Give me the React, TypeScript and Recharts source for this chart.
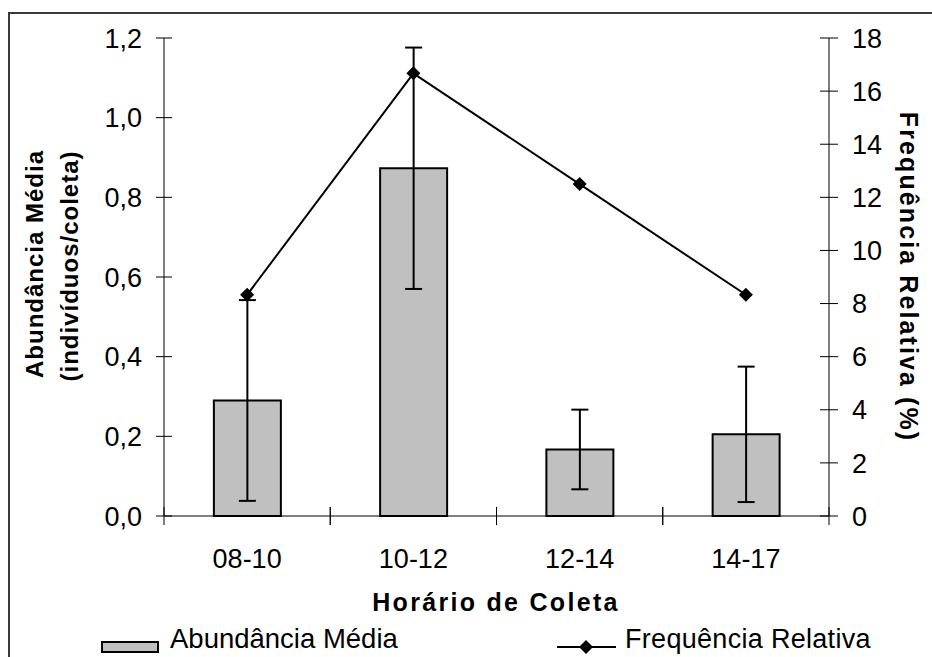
import { ComposedChart, Bar, Line, XAxis, YAxis, ErrorBar, Legend } from 'recharts';

const horarios = ['08-10', '10-12', '12-14', '14-17'];
const abundancia = [0.29, 0.873, 0.167, 0.205];
const erroPadrao = [0.252, 0.303, 0.1, 0.17];
const frequencia = [8.33, 16.67, 12.5, 8.33];
const ticksAbund = [0, 0.2, 0.4, 0.6, 0.8, 1.0, 1.2];
const ticksFreq = [0, 2, 4, 6, 8, 10, 12, 14, 16, 18];

const data = horarios.map((h, i) => ({
  horario: h,
  abund: abundancia[i],
  erro: erroPadrao[i],
  freq: frequencia[i],
}));

const W = 932;
const H = 657;
const PLOT_LEFT = 164;
const PLOT_RIGHT = 829;
const FONT = '"Liberation Sans", Arial, sans-serif';

const fmt = (v: number) => v.toFixed(1).replace('.', ',');

function LeftTick({ x, y, payload }: any) {
  return (
    <g>
      <line x1={x - 8} x2={x + 8} y1={y} y2={y} stroke="#000" />
      <text x={x - 22} y={y} dy="0.36em" textAnchor="end" fontSize={27}
        fill="#000" fontFamily={FONT}>{fmt(payload.value)}</text>
    </g>
  );
}

function RightTick({ x, y, payload }: any) {
  return (
    <g>
      <line x1={x - 9} x2={x + 9} y1={y} y2={y} stroke="#000" />
      <text x={x + 23} y={y} dy="0.36em" textAnchor="start" fontSize={27}
        fill="#000" fontFamily={FONT}>{payload.value}</text>
    </g>
  );
}

function BottomTick({ x, y, payload }: any) {
  const half = (PLOT_RIGHT - PLOT_LEFT) / horarios.length / 2;
  return (
    <g>
      <line x1={x - half} x2={x - half} y1={y - 9} y2={y + 9} stroke="#000" />
      <line x1={x + half} x2={x + half} y1={y - 9} y2={y + 9} stroke="#000" />
      <text x={x} y={y + 52} textAnchor="middle" fontSize={27}
        fill="#000" fontFamily={FONT}>{payload.value}</text>
    </g>
  );
}

function Diamond({ cx, cy }: any) {
  if (cx == null || cy == null) return null;
  const r = 7;
  return (
    <polygon points={`${cx},${cy - r} ${cx + r},${cy} ${cx},${cy + r} ${cx - r},${cy}`} fill="#000" />
  );
}

function LegendBox() {
  return (
    <svg width={W} height={29} style={{ display: 'block', overflow: 'visible' }}>
      <rect x={102} y={15} width={56} height={10} fill="#c0c0c0" stroke="#000" strokeWidth={2} />
      <text x={170} y={21} fontSize={27.5} fill="#000" fontFamily={FONT}>Abundância Média</text>
      <line x1={557} x2={616} y1={20} y2={20} stroke="#000" strokeWidth={2} />
      <Diamond cx={586} cy={20} />
      <text x={625} y={21} fontSize={27} letterSpacing={0.3} fill="#000" fontFamily={FONT}>Frequência Relativa</text>
    </svg>
  );
}

export default function App() {
  return (
    <div style={{ position: 'fixed', left: 0, top: 0, width: W, height: H, overflow: 'hidden', background: '#fff' }}>
      <div style={{ position: 'absolute', left: 8, top: 12, width: 960, height: 700, border: '2px solid #3a3a3a' }} />
      <div style={{ position: 'absolute', left: 0, top: 0 }}>
        <ComposedChart width={W} height={H} data={data} barCategoryGap="30%"
          margin={{ top: 38, right: 43, bottom: 52, left: 84 }}>
          <XAxis dataKey="horario" height={60} tickLine={false} tickSize={0} tickMargin={0}
            axisLine={{ stroke: '#000' }} tick={<BottomTick />} interval={0} />
          <YAxis yAxisId="left" width={80} domain={[0, 1.2]} ticks={ticksAbund} tickLine={false}
            tickSize={0} tickMargin={0} axisLine={{ stroke: '#000' }} tick={<LeftTick />} interval={0} />
          <YAxis yAxisId="right" orientation="right" width={60} domain={[0, 18]} ticks={ticksFreq}
            tickLine={false} tickSize={0} tickMargin={0} axisLine={{ stroke: '#000' }} tick={<RightTick />} interval={0} />
          <Bar yAxisId="left" dataKey="abund" name="Abundância Média" fill="#c0c0c0" stroke="#000"
            strokeWidth={2} isAnimationActive={false}>
            <ErrorBar dataKey="erro" width={8.5} stroke="#000" strokeWidth={2} />
          </Bar>
          <Line yAxisId="right" dataKey="freq" name="Frequência Relativa" stroke="#000" strokeWidth={2}
            dot={(p: any) => <Diamond key={p.index} cx={p.cx} cy={p.cy} />} activeDot={false}
            isAnimationActive={false} />
          <Legend content={<LegendBox />}
            wrapperStyle={{ left: 0, top: 627, bottom: 'auto', width: W, height: 29 }} />
          <text x={43} y={264} transform="rotate(-90, 43, 264)" textAnchor="middle" fontSize={24}
            fontWeight="bold" letterSpacing={1} fontFamily={FONT} fill="#000">Abundância Média</text>
          <text x={78} y={266} transform="rotate(-90, 78, 266)" textAnchor="middle" fontSize={24}
            fontWeight="bold" letterSpacing={1} fontFamily={FONT} fill="#000">(indivíduos/coleta)</text>
          <text x={900} y={277} transform="rotate(90, 900, 277)" textAnchor="middle" fontSize={25}
            fontWeight="bold" letterSpacing={2.1} fontFamily={FONT} fill="#000">Frequência Relativa (%)</text>
          <text x={496} y={611} textAnchor="middle" fontSize={25} fontWeight="bold" letterSpacing={2.3}
            fontFamily={FONT} fill="#000">Horário de Coleta</text>
        </ComposedChart>
      </div>
    </div>
  );
}
